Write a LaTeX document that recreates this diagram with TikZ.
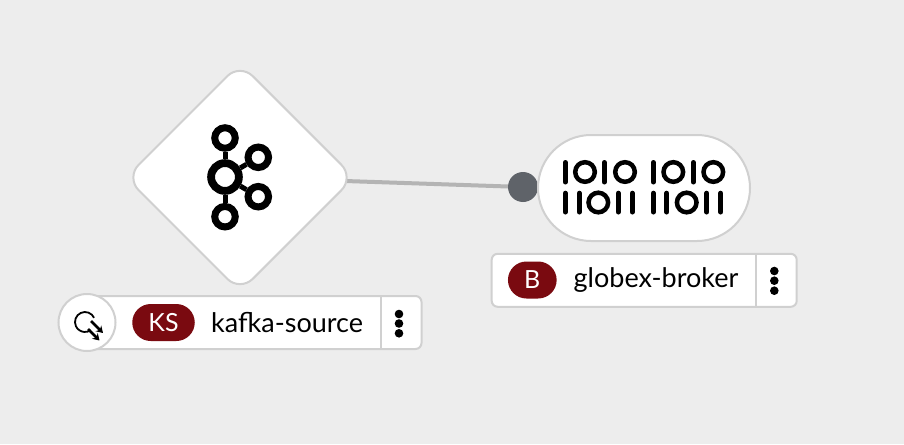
\documentclass[tikz,border=0pt]{standalone}
\usepackage{fontspec}
\setmainfont{Lato}
\usetikzlibrary{calc}
\usetikzlibrary{shapes.geometric}
\usetikzlibrary{shapes.misc}
\usetikzlibrary{arrows.meta}

\definecolor{canvasgray}{HTML}{EDEDED}
\definecolor{edgegray}{HTML}{D0D0D0}
\definecolor{wiregray}{HTML}{B4B4B4}
\definecolor{portgray}{HTML}{5F6369}
\definecolor{badgered}{HTML}{7A0A10}

\tikzset{
  nodeline/.style={draw=edgegray, line width=2pt, fill=white},
  labelbox/.style={nodeline, rectangle, rounded corners=6pt},
  badge/.style={rounded rectangle, fill=badgered, text=white, font=\fontsize{25}{30}\selectfont},
  labeltext/.style={anchor=west, font=\fontsize{27}{32}\selectfont},
  kring/.style={circle, draw=black, line width=7pt, minimum size=20.5pt},
  klink/.style={draw=black, line width=5pt},
  bitbar/.style={line width=5pt, line cap=round},
  iconarrow/.style={line width=2.5pt, -{Stealth[length=6.5pt,width=8pt]}}
}

\begin{document}
\begin{tikzpicture}[inner sep=0pt]
\def\u{1pt}
\useasboundingbox (0,0) rectangle (904*\u, -444*\u);
\fill[canvasgray] (0,0) rectangle (904*\u, -444*\u);

% wire goes under both shapes
\coordinate (kafkaout) at (345*\u, -181*\u);
\node[circle, fill=portgray, minimum size=30pt] (port) at (523*\u, -187*\u) {};
\draw[wiregray, line width=4pt] (kafkaout) -- (port);

\node[diamond, nodeline, rounded corners=18pt, minimum width=229pt, minimum height=229pt] (kafka) at (240*\u, -177.5*\u) {};
\node[rounded rectangle, nodeline, minimum width=212pt, minimum height=106pt] (broker) at (644*\u, -188*\u) {};

% kafka icon
\node[circle, draw=black, line width=7.8pt, minimum size=27.8pt] (khub) at (225*\u, -177*\u) {};
\node[kring] (ktop) at (225*\u, -138*\u) {};
\node[kring] (kbottom) at (225*\u, -216.7*\u) {};
\node[kring] (kupper) at (258.3*\u, -157.3*\u) {};
\node[kring] (klower) at (258.3*\u, -196.7*\u) {};
\draw[klink] (khub) -- (ktop);
\draw[klink] (khub) -- (kbottom);
\draw[klink] (khub) -- (kupper);
\draw[klink] (khub) -- (klower);

% bits of the broker icon
\foreach \x in {565.3, 604.3, 653.3, 693.3}
  \draw[bitbar] (\x*\u, -162.5*\u) -- (\x*\u, -182*\u);
\foreach \x in {585, 625, 673.3, 713.3}
  \draw[line width=4.5pt] (\x*\u, -172*\u) circle (9.8pt);
\foreach \x in {565.3, 579.3, 618.3, 632.3, 653.3, 666.7, 706.7, 720.7}
  \draw[bitbar] (\x*\u, -193.2*\u) -- (\x*\u, -212*\u);
\foreach \x in {598.3, 686.7}
  \draw[line width=4.5pt] (\x*\u, -202.5*\u) circle (9.8pt);

% labels
\node[labelbox, minimum width=333pt, minimum height=53pt] (kafkalabel) at (255*\u, -322.5*\u) {};
\draw[edgegray, line width=2pt] (381*\u, -296*\u) -- (381*\u, -349*\u);
\node[badge, minimum width=62.5pt, minimum height=37pt] (kafkabadge) at (163.5*\u, -322.5*\u) {KS};
\node[labeltext] (kafkaname) at (211*\u, -322.5*\u) {kafka-source};
\foreach \y in {314, 323.5, 333.3}
  \fill (399*\u, -\y*\u) circle (4.3pt);

\node[labelbox, minimum width=305pt, minimum height=53pt] (brokerlabel) at (644.2*\u, -280.3*\u) {};
\draw[edgegray, line width=2pt] (756*\u, -254*\u) -- (756*\u, -306.7*\u);
\node[badge, minimum width=48.7pt, minimum height=37pt] (brokerbadge) at (532.3*\u, -280*\u) {B};
\node[labeltext] (brokername) at (573.5*\u, -280.5*\u) {globex-broker};
\foreach \y in {271, 280.7, 290.7}
  \fill (774.3*\u, -\y*\u) circle (4.3pt);

% decorator with its icon
\node[circle, nodeline, minimum size=57pt] (decorator) at (87*\u, -322.5*\u) {};
\draw[line width=1.8pt] (85*\u, -322*\u) ++(25:10pt) arc (25:305:10pt);
\draw[iconarrow] (91*\u, -321*\u) -- (103*\u, -333*\u);
\draw[iconarrow] (88*\u, -329*\u) -- (99.5*\u, -340.5*\u);
\end{tikzpicture}
\end{document}
